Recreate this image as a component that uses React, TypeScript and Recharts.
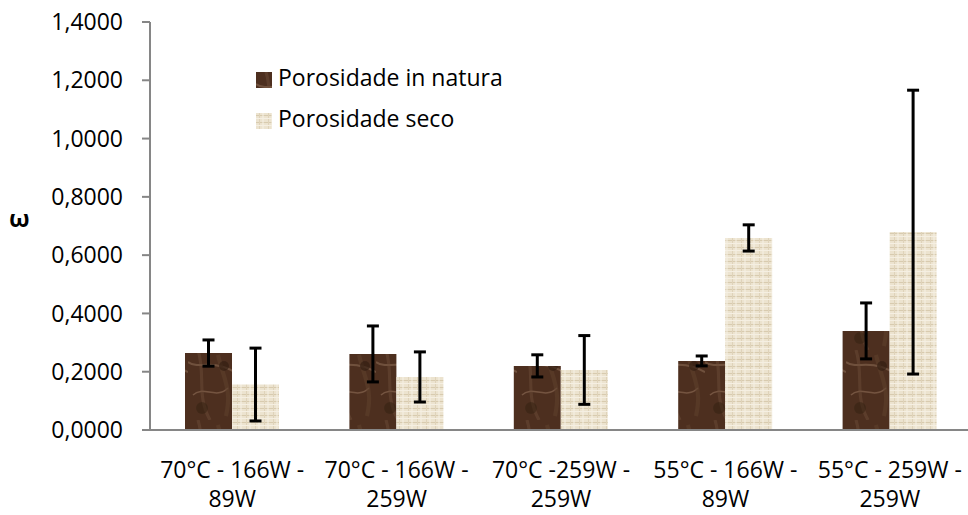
import React from "react"
import { BarChart, Bar, XAxis, YAxis, ErrorBar } from "recharts"

const categories = [
  "70°C - 166W - 89W",
  "70°C - 166W - 259W",
  "70°C -259W - 259W",
  "55°C - 166W - 89W",
  "55°C - 259W - 259W",
]
const natura = [0.264, 0.261, 0.22, 0.237, 0.34]
const naturaErr = [0.045, 0.096, 0.038, 0.017, 0.096]
const seco = [0.156, 0.182, 0.206, 0.659, 0.679]
const secoErr = [0.125, 0.086, 0.118, 0.045, 0.487]
const yTicks = [0, 0.2, 0.4, 0.6, 0.8, 1.0, 1.2, 1.4]
const legendItems = [
  { label: "Porosidade in natura", fill: "url(#marble)" },
  { label: "Porosidade seco", fill: "url(#linen)" },
]

const data = categories.map((name, i) => ({
  name,
  natura: natura[i],
  naturaErr: naturaErr[i],
  seco: seco[i],
  secoErr: secoErr[i],
}))

const FONT = "'Open Sans', sans-serif"

const fmt = (v: number) => v.toFixed(4).replace(".", ",")

const CategoryTick = ({ x, y, payload }: any) => {
  const s: string = payload.value
  const cut = s.lastIndexOf(" ")
  return (
    <text x={x} y={y} textAnchor="middle" fill="#000" fontSize={23} fontFamily={FONT}>
      <tspan x={x} dy={40}>{s.slice(0, cut)}</tspan>
      <tspan x={x} dy={29}>{s.slice(cut + 1)}</tspan>
    </text>
  )
}

export default function App() {
  return (
    <div style={{ position: "absolute", left: 0, top: 0, width: 968, height: 515, overflow: "hidden", background: "#fff" }}>
      <BarChart
        width={972}
        height={515}
        data={data}
        margin={{ top: 22, right: 0, bottom: 0, left: 0 }}
        barGap={0}
        style={{ position: "absolute", left: 0, top: 0 }}
      >
        <defs>
          <pattern id="marble" patternUnits="userSpaceOnUse" width={47} height={70}>
            <rect width={47} height={70} fill="#4d2f1f" />
            <path d="M0 12 C12 20 20 8 47 22" stroke="#7f5f4a" strokeWidth={2} fill="none" opacity={0.7} />
            <path d="M5 45 C15 35 28 50 40 38" stroke="#8d6d57" strokeWidth={1.5} fill="none" opacity={0.6} />
            <path d="M10 0 C18 25 8 45 22 70" stroke="#6b4b37" strokeWidth={3} fill="none" opacity={0.5} />
            <path d="M30 5 C36 30 44 40 38 66" stroke="#5e3f2c" strokeWidth={4} fill="none" opacity={0.6} />
            <circle cx={36} cy={16} r={5} fill="#2e1a0f" opacity={0.6} />
            <circle cx={14} cy={58} r={6} fill="#32200f" opacity={0.5} />
          </pattern>
          <pattern id="linen" patternUnits="userSpaceOnUse" width={9} height={7}>
            <rect width={9} height={7} fill="#ece3cf" />
            <line x1={0} y1={2.5} x2={9} y2={2.5} stroke="#d8cbaf" strokeWidth={1} />
            <line x1={3.5} y1={0} x2={3.5} y2={7} stroke="#dfd3ba" strokeWidth={1} />
            <line x1={7} y1={0} x2={7} y2={7} stroke="#f6f1e5" strokeWidth={1} />
            <line x1={0} y1={5.5} x2={9} y2={5.5} stroke="#f5efe2" strokeWidth={1} />
          </pattern>
        </defs>
        <XAxis
          dataKey="name"
          height={85}
          tickLine={false}
          axisLine={{ stroke: "#868686", strokeWidth: 2 }}
          tick={<CategoryTick />}
          interval={0}
        />
        <YAxis
          width={150}
          domain={[0, 1.4]}
          ticks={yTicks}
          tickFormatter={fmt}
          tickSize={8}
          tickMargin={19}
          axisLine={{ stroke: "#868686", strokeWidth: 2 }}
          tickLine={{ stroke: "#868686", strokeWidth: 2 }}
          tick={{ fill: "#000", fontSize: 23, fontFamily: FONT }}
          interval={0}
        />
        <Bar dataKey="natura" name="Porosidade in natura" fill="url(#marble)" barSize={47} isAnimationActive={false}>
          <ErrorBar dataKey="naturaErr" width={6} stroke="#000" strokeWidth={3} />
        </Bar>
        <Bar dataKey="seco" name="Porosidade seco" fill="url(#linen)" barSize={47} isAnimationActive={false}>
          <ErrorBar dataKey="secoErr" width={6} stroke="#000" strokeWidth={3} />
        </Bar>
      </BarChart>
      <div
        style={{
          position: "absolute",
          left: 9,
          top: 204,
          fontFamily: FONT,
          fontWeight: 700,
          fontSize: 24,
          lineHeight: "28px",
        }}
      >
        ω
      </div>
      <div style={{ position: "absolute", left: 256, top: 56, fontFamily: FONT, fontSize: 23, color: "#000" }}>
        {legendItems.map((it) => (
          <div key={it.label} style={{ display: "flex", alignItems: "center", height: 41 }}>
            <svg width={16} height={16} style={{ marginRight: 6, marginTop: 6 }}>
              <rect width={16} height={16} fill={it.fill} />
            </svg>
            <span style={{ lineHeight: "30px" }}>{it.label}</span>
          </div>
        ))}
      </div>
    </div>
  )
}
